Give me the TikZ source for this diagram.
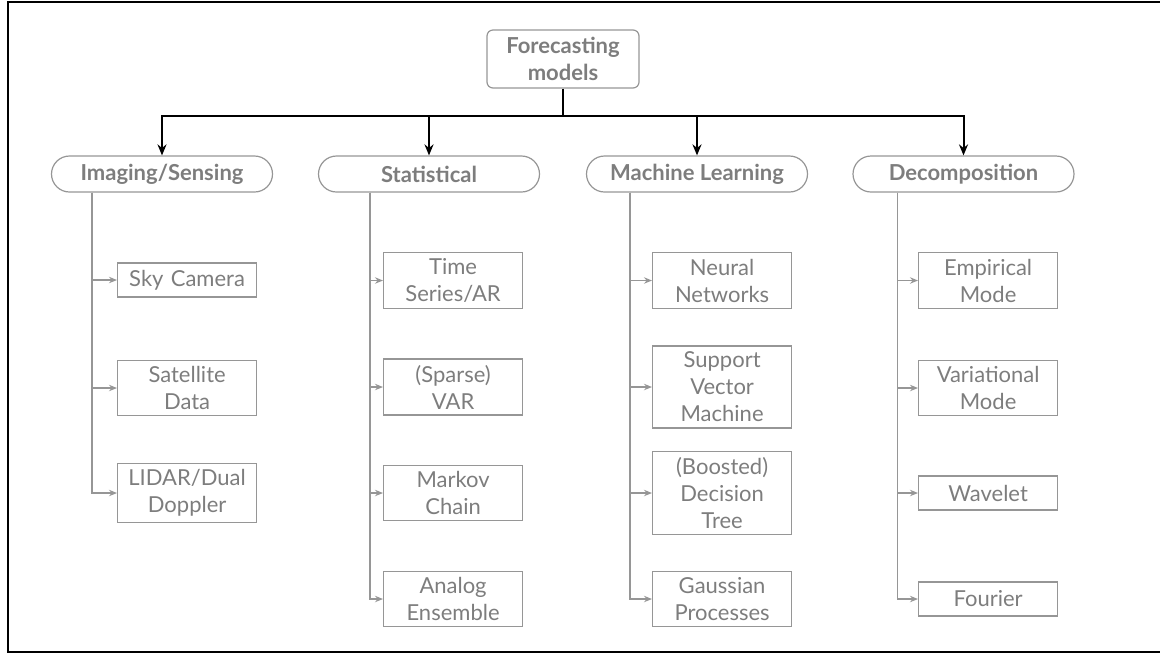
\documentclass[tikz,border=0pt]{standalone}
\usepackage{fontspec}
\setmainfont{Lato}
\usetikzlibrary{arrows.meta}
\definecolor{txtgray}{RGB}{125,125,125}
\definecolor{linegray}{RGB}{150,150,150}
\tikzset{
  rootbox/.style={draw=linegray, line width=0.6pt, rounded corners=3pt, text=txtgray,
    font=\fontsize{11}{13.5}\selectfont\bfseries, align=center,
    minimum width=76pt, minimum height=29pt, inner sep=2pt},
  catbox/.style={draw=linegray, line width=0.6pt, rounded corners=9pt, text=txtgray,
    font=\fontsize{11}{13.5}\selectfont\bfseries,
    minimum width=110.5pt, minimum height=18pt, inner sep=2pt},
  leafbox/.style={draw=linegray, line width=0.6pt, text=txtgray,
    font=\fontsize{11}{13.5}\selectfont, align=center, text width=62pt,
    minimum width=69.5pt, minimum height=17pt, inner xsep=3.75pt, inner ysep=3pt},
  trunk/.style={black, line width=1pt},
  trunkarrow/.style={trunk, -{Stealth[length=5.5pt,width=4.5pt]}},
  branch/.style={linegray, line width=0.6pt, -{Stealth[length=4pt,width=3.2pt]}},
  frame/.style={black, line width=1pt}
}
\begin{document}
\begin{tikzpicture}[x=0.5pt,y=-0.5pt]
\useasboundingbox (0,0) rectangle (1160,655);
% outer frame
\draw[frame] (1170,1.5) -- (7.5,1.5) -- (7.5,651.5) -- (1170,651.5);

% root
\node[rootbox] (root) at (563,59) {Forecasting\\models};
\coordinate (bus) at (563,116);

% categories
\node[catbox] (img)  at (162,174)   {Imaging/Sensing};
\node[catbox] (stat) at (429,174)   {Statistical};
\node[catbox] (ml)   at (697,174)   {Machine Learning};
\node[catbox] (dec)  at (963.5,174) {Decomposition};

\draw[trunk] (root.south) -- (bus);
\draw[trunkarrow] (bus) -| (img.north);
\draw[trunkarrow] (bus) -| (stat.north);
\draw[trunkarrow] (bus) -| (ml.north);
\draw[trunkarrow] (bus) -| (dec.north);

% x positions of the branch lines
\coordinate (timg)  at (92,0);
\coordinate (tstat) at (370,0);
\coordinate (tml)   at (630,0);
\coordinate (tdec)  at (897.5,0);

% Imaging/Sensing leaves
\node[leafbox, anchor=west] (sky) at (117,280) {Sky Camera};
\node[leafbox, anchor=west] (sat) at (117,388) {Satellite\\Data};
\node[leafbox, anchor=west] (lid) at (117,493) {LIDAR/Dual\\Doppler};

% Statistical leaves
\node[leafbox, anchor=west] (ts)  at (383,280.5) {Time\\Series/AR};
\node[leafbox, anchor=west] (var) at (383,387) {(Sparse)\\VAR};
\node[leafbox, anchor=west] (mc)  at (383,493) {Markov\\Chain};
\node[leafbox, anchor=west] (ae)  at (383,599) {Analog\\Ensemble};

% Machine Learning leaves
\node[leafbox, anchor=west] (nn)  at (652,280.5) {Neural\\Networks};
\node[leafbox, anchor=west] (svm) at (652,387) {Support\\Vector\\Machine};
\node[leafbox, anchor=west] (dt)  at (652,493) {(Boosted)\\Decision\\Tree};
\node[leafbox, anchor=west] (gp)  at (652,599) {Gaussian\\Processes};

% Decomposition leaves
\node[leafbox, anchor=west] (emd) at (918,280.5) {Empirical\\Mode};
\node[leafbox, anchor=west] (vmd) at (918,388) {Variational\\Mode};
\node[leafbox, anchor=west] (wav) at (918,493) {Wavelet};
\node[leafbox, anchor=west] (fou) at (918,599) {Fourier};

% branch connectors
\foreach \c in {sky,sat,lid} \draw[branch] (img.south -| timg) |- (\c.west);
\foreach \c in {ts,var,mc,ae} \draw[branch] (stat.south -| tstat) |- (\c.west);
\foreach \c in {nn,svm,dt,gp} \draw[branch] (ml.south -| tml) |- (\c.west);
\foreach \c in {emd,vmd,wav,fou} \draw[branch] (dec.south -| tdec) |- (\c.west);
\end{tikzpicture}
\end{document}
